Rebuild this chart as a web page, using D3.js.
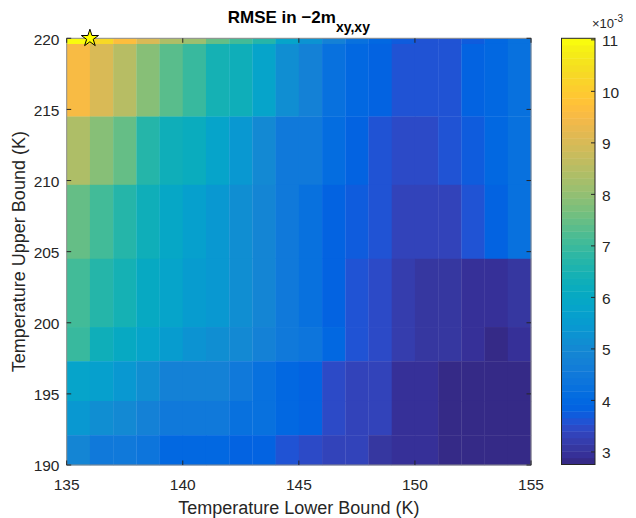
<!DOCTYPE html>
<html>
<head>
<meta charset="utf-8">
<script src="https://d3js.org/d3.v7.min.js"></script>
<style>
  body { margin: 0; background: #fff; }
  svg { display: block; font-family: 'Liberation Sans', Arial, sans-serif; }
</style>
</head>
<body>
<div id="chart"></div>
<script>
// cell edges (K)
var xEdges = [135, 136, 137, 138, 139, 140, 141, 142, 143, 144, 145,
              146, 147, 148, 149, 150, 151, 152, 153, 154, 155];
var yEdges = [220, 219.6, 214.5, 209.7, 204.5, 199.7, 197.3, 194.5, 192.1, 190];

// RMSE (x 1e-3), one row per y band, top band first
var rmseRows = [
  [10.95, 10.29, 9.70, 9.00, 8.36, 8.10, 7.50, 7.07, 6.68, 5.75, 5.27, 4.80, 4.30, 3.98, 3.72, 3.60, 3.60, 3.72, 3.98, 4.23],
  [9.52, 9.00, 8.49, 7.84, 7.33, 7.00, 6.50, 6.25, 5.80, 5.20, 4.80, 4.23, 3.98, 3.80, 3.59, 3.59, 3.59, 3.80, 3.98, 4.23],
  [8.36, 7.84, 7.46, 6.75, 6.36, 6.17, 5.75, 5.40, 5.00, 4.50, 4.45, 4.05, 3.85, 3.60, 3.46, 3.46, 3.60, 3.72, 3.98, 4.23],
  [7.46, 7.07, 6.68, 6.36, 5.98, 5.70, 5.40, 5.14, 4.95, 4.50, 4.23, 3.85, 3.72, 3.59, 3.40, 3.40, 3.40, 3.59, 3.85, 4.23],
  [7.07, 6.68, 6.50, 6.04, 5.80, 5.50, 5.40, 5.14, 4.95, 4.50, 4.23, 3.85, 3.59, 3.46, 3.27, 3.08, 3.08, 2.95, 2.95, 3.08],
  [6.94, 6.30, 6.04, 5.80, 5.50, 5.27, 5.14, 5.00, 4.75, 4.50, 4.40, 3.98, 3.59, 3.46, 3.27, 3.08, 3.08, 2.95, 2.82, 2.95],
  [5.80, 5.65, 5.40, 5.14, 4.75, 4.75, 4.75, 4.50, 4.23, 3.98, 3.85, 3.52, 3.40, 3.30, 2.95, 2.95, 2.82, 2.82, 2.82, 2.82],
  [5.40, 5.14, 5.00, 4.75, 4.50, 4.50, 4.45, 4.23, 4.20, 3.92, 3.85, 3.52, 3.40, 3.30, 2.95, 2.95, 2.82, 2.82, 2.82, 2.82],
  [4.95, 4.55, 4.50, 4.36, 3.98, 3.98, 3.98, 3.85, 3.90, 3.59, 3.46, 3.34, 3.30, 3.08, 2.95, 2.95, 2.82, 2.82, 2.82, 2.82]
];

var xTicks = [135, 140, 145, 150, 155];
var yTicks = [190, 195, 200, 205, 210, 215, 220];
var cbTicks = [3, 4, 5, 6, 7, 8, 9, 10, 11];
var cRange = [2.756, 11.03];
var best = {x: 136, y: 220};

var parula = ['#352a87','#363098','#3637a0','#353dad','#3243ba','#2c4ac7','#2053d4','#0f5cdd',
  '#0363e1','#0268e1','#046de0','#0871de','#0d75dc','#1079da','#127dd8','#1481d6',
  '#1485d4','#1389d3','#108ed2','#0c93d2','#0998d1','#079ccf','#06a0cd','#06a4ca',
  '#06a7c6','#07a9c2','#0aacbe','#0faeb9','#15b1b4','#1db3af','#25b5a9','#2eb7a4',
  '#38b99e','#42bb98','#4dbc92','#59bd8c','#65be86','#71bf80','#7cbf7b','#87bf77',
  '#92bf73','#9cbf6f','#a5be6b','#aebe67','#b7bd64','#c0bc60','#c8bc5d','#d1bb59',
  '#d9ba56','#e1b952','#e9b94e','#f1b94a','#f8bb44','#fdbe3d','#ffc337','#fec832',
  '#fccd2e','#fad32a','#f7d826','#f5de21','#f5e41d','#f5eb18','#f6f114','#f9fb0e'];

var W = 636, H = 518;
var plot = {left: 66.7, right: 531, top: 38.3, bottom: 465};
var cb = {left: 561.5, right: 595};
var tickLen = 4.5;

var svg = d3.select('#chart').append('svg').attr('width', W).attr('height', H);

var x = d3.scaleLinear().domain([135, 155]).range([plot.left, plot.right]);
var y = d3.scaleLinear().domain([190, 220]).range([plot.bottom, plot.top]);
var color = d3.scaleQuantize().domain(cRange).range(parula);

// heat cells
var cells = [];
rmseRows.forEach(function(row, r) {
  row.forEach(function(v, c) {
    cells.push({r: r, c: c, v: v});
  });
});
svg.append('g').selectAll('rect').data(cells).enter().append('rect')
  .attr('x', function(d) { return x(xEdges[d.c]); })
  .attr('y', function(d) { return y(yEdges[d.r]); })
  .attr('width', function(d) { return x(xEdges[d.c + 1]) - x(xEdges[d.c]) + 0.3; })
  .attr('height', function(d) { return y(yEdges[d.r + 1]) - y(yEdges[d.r]) + 0.3; })
  .attr('fill', function(d) { return color(d.v); });

// axes box
svg.append('rect')
  .attr('x', plot.left).attr('y', plot.top)
  .attr('width', plot.right - plot.left).attr('height', plot.bottom - plot.top)
  .attr('fill', 'none').attr('stroke', '#8a8a8a').attr('stroke-width', 1);

// ticks, mirrored on all four sides, pointing in
var tickG = svg.append('g').attr('stroke', '#262626').attr('stroke-width', 1);
xTicks.forEach(function(t) {
  tickG.append('line').attr('x1', x(t)).attr('x2', x(t)).attr('y1', plot.bottom).attr('y2', plot.bottom - tickLen);
  tickG.append('line').attr('x1', x(t)).attr('x2', x(t)).attr('y1', plot.top).attr('y2', plot.top + tickLen);
});
yTicks.forEach(function(t) {
  tickG.append('line').attr('x1', plot.left).attr('x2', plot.left + tickLen).attr('y1', y(t)).attr('y2', y(t));
  tickG.append('line').attr('x1', plot.right).attr('x2', plot.right - tickLen).attr('y1', y(t)).attr('y2', y(t));
});

svg.append('g').selectAll('text').data(xTicks).enter().append('text')
  .attr('x', function(d) { return x(d); })
  .attr('y', 489.5)
  .attr('text-anchor', 'middle')
  .attr('font-size', 15.5).attr('fill', '#262626')
  .text(function(d) { return d; });

svg.append('g').selectAll('text').data(yTicks).enter().append('text')
  .attr('x', 59.5)
  .attr('y', function(d) { return y(d) + 6.3; })
  .attr('text-anchor', 'end')
  .attr('font-size', 15.5).attr('fill', '#262626')
  .text(function(d) { return d; });

// labels
svg.append('text')
  .attr('x', (plot.left + plot.right) / 2).attr('y', 514)
  .attr('text-anchor', 'middle').attr('font-size', 18).attr('fill', '#262626')
  .text('Temperature Lower Bound (K)');

svg.append('text')
  .attr('transform', 'translate(25,' + (plot.top + plot.bottom) / 2 + ') rotate(-90)')
  .attr('text-anchor', 'middle').attr('font-size', 18).attr('fill', '#262626')
  .text('Temperature Upper Bound (K)');

var title = svg.append('text')
  .attr('x', (plot.left + plot.right) / 2).attr('y', 23)
  .attr('text-anchor', 'middle').attr('font-weight', 'bold').attr('fill', '#000');
title.append('tspan').attr('font-size', 17).text('RMSE in \u22122m');
title.append('tspan').attr('font-size', 14).attr('dy', 9).text('xy,xy');

// best point marker
svg.append('path')
  .attr('d', d3.symbol().type(d3.symbolStar).size(92)())
  .attr('transform', 'translate(' + x(best.x) + ',' + y(best.y) + ')')
  .attr('fill', '#ffff00').attr('stroke', '#000').attr('stroke-width', 1);

// colorbar
var cy = d3.scaleLinear().domain(cRange).range([plot.bottom - 0.5, plot.top]);
var step = (cRange[1] - cRange[0]) / parula.length;
svg.append('g').selectAll('rect').data(parula).enter().append('rect')
  .attr('x', cb.left)
  .attr('y', function(d, i) { return cy(cRange[0] + (i + 1) * step); })
  .attr('width', cb.right - cb.left)
  .attr('height', function(d, i) { return cy(cRange[0] + i * step) - cy(cRange[0] + (i + 1) * step) + 0.4; })
  .attr('fill', function(d) { return d; });

svg.append('rect')
  .attr('x', cb.left).attr('y', cy(cRange[1]))
  .attr('width', cb.right - cb.left).attr('height', cy(cRange[0]) - cy(cRange[1]))
  .attr('fill', 'none').attr('stroke', '#262626').attr('stroke-width', 1);

cbTicks.forEach(function(t) {
  svg.append('line')
    .attr('x1', cb.right).attr('x2', cb.right - 4)
    .attr('y1', cy(t)).attr('y2', cy(t))
    .attr('stroke', '#262626');
});
svg.append('g').selectAll('text').data(cbTicks).enter().append('text')
  .attr('x', 602)
  .attr('y', function(d) { return cy(d) + 6.5; })
  .attr('font-size', 15.5).attr('fill', '#262626')
  .text(function(d) { return d; });

var expo = svg.append('text').attr('x', 592).attr('y', 28).attr('fill', '#262626');
expo.append('tspan').attr('font-size', 13).text('\u00d710');
expo.append('tspan').attr('font-size', 10).attr('dy', -6).text('-3');
</script>
</body>
</html>
